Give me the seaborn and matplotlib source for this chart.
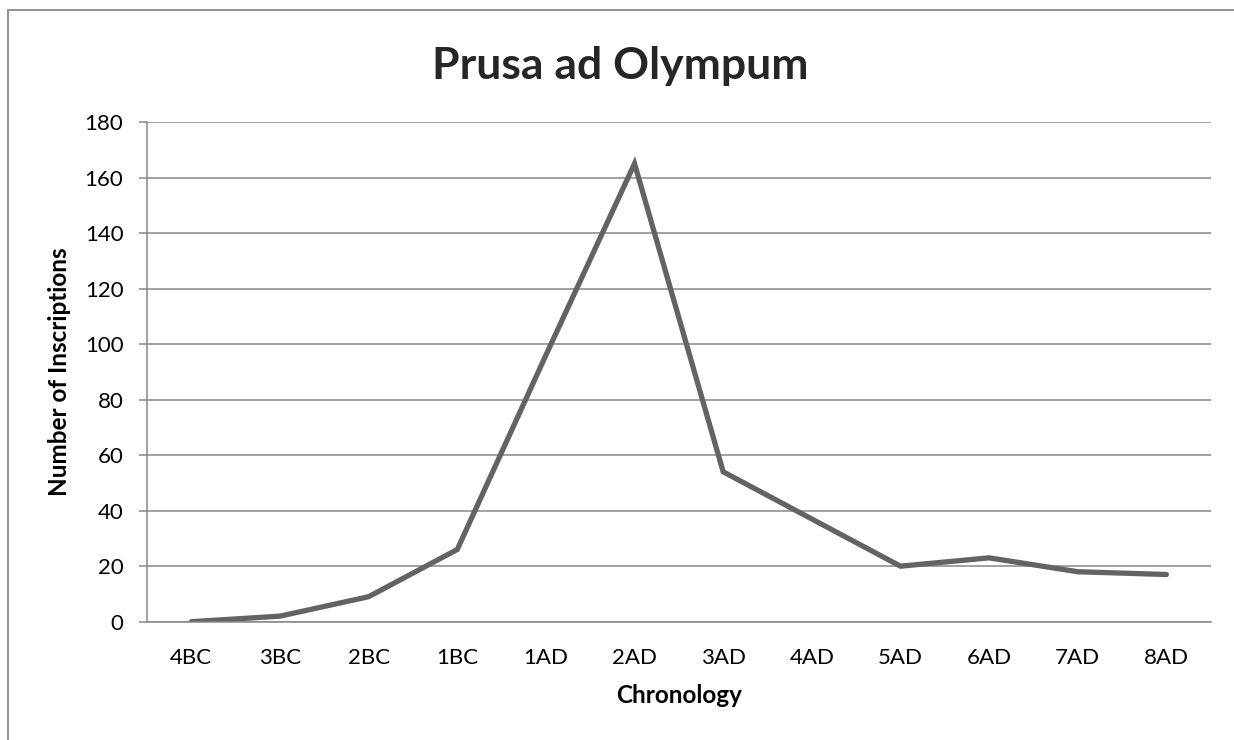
import matplotlib
matplotlib.use("Agg")
import matplotlib.pyplot as plt
import seaborn as sns
import pandas as pd
from matplotlib.patches import Rectangle

periods = ["4BC", "3BC", "2BC", "1BC", "1AD", "2AD", "3AD", "4AD", "5AD", "6AD", "7AD", "8AD"]
inscriptions = [0, 2, 9, 26, 96, 165, 54, 37, 20, 23, 18, 17]
y_ticks = [0, 20, 40, 60, 80, 100, 120, 140, 160, 180]

title = "Prusa ad Olympum"
x_title = "Chronology"
y_title = "Number of Inscriptions"

sns.set_theme(style="white")
plt.rcParams["font.family"] = ["Lato", "DejaVu Sans"]

df = pd.DataFrame({"period": periods, "count": inscriptions})

fig = plt.figure(figsize=(12.34, 7.40), dpi=100)
ax = fig.add_axes([147 / 1234, 1 - 621.7 / 740, (1210.7 - 147) / 1234, (621.7 - 122) / 740])

grid_c = "#878787"
sns.lineplot(data=df, x="period", y="count", ax=ax, color="#636363", linewidth=3.8,
             sort=False, solid_joinstyle="miter", solid_capstyle="round")

ax.set_xlim(-0.5, len(periods) - 0.5)
ax.set_ylim(0, 180)
ax.set_yticks(y_ticks)
ax.set_yticklabels([str(v) for v in y_ticks])
ax.yaxis.grid(True, color=grid_c, linewidth=1.1)
ax.xaxis.grid(False)
ax.set_axisbelow(True)

for s in ["top", "right"]:
    ax.spines[s].set_visible(False)
for s in ["left", "bottom"]:
    ax.spines[s].set_color(grid_c)
    ax.spines[s].set_linewidth(1.1)

ax.tick_params(axis="y", which="both", left=True, length=6, width=1.1, color=grid_c,
               pad=11, labelsize=16, labelcolor="black")
ax.tick_params(axis="x", which="both", bottom=False, length=0, pad=19,
               labelsize=16, labelcolor="black")

ax.set_xlabel(x_title, fontsize=17.5, fontweight="bold", color="black")
ax.set_ylabel(y_title, fontsize=17.5, fontweight="bold", color="black")
ax.xaxis.set_label_coords(0.5, -0.124)
ax.yaxis.set_label_coords(-0.071, 0.5)

fig.text(0.503, 1 - 66 / 740, title, ha="center", va="center", fontsize=32, fontweight="bold")

fig.patches.append(Rectangle((8 / 1234, -0.1), 1.2, 1 - 10 / 740 + 0.1, transform=fig.transFigure,
                             fill=False, edgecolor="#898989", linewidth=1.3))

fig.savefig("out.png", dpi=100)
